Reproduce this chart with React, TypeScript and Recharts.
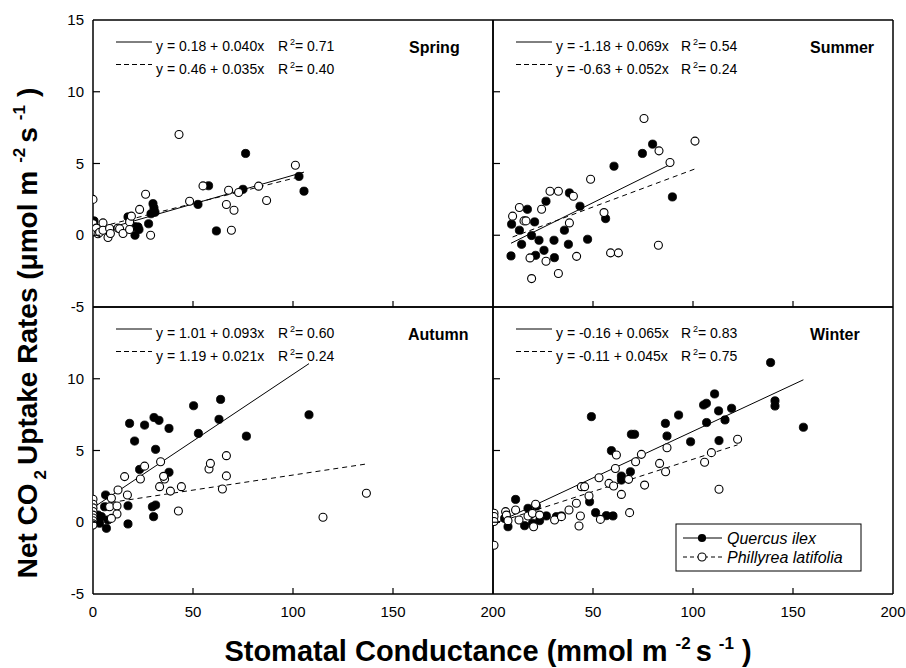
import React from 'react';
import { ScatterChart, Scatter, XAxis, YAxis, ReferenceLine } from 'recharts';

// ---------- data (x = stomatal conductance, y = net CO2 uptake) ----------
const springQuercus = [
  [0.5, 1.0], [0, 0.8], [17.5, 1.28], [21, 0.0], [22.5, 0.58], [23, 0.4], [20.8, 0.6], [27.8, 0.8],
  [30, 2.2], [31, 1.6], [30.5, 1.9], [29, 1.5], [52.5, 2.15], [57.8, 3.45], [61.7, 0.3], [75, 3.2],
  [76.3, 5.7], [103, 4.1], [105.5, 3.07],
];
const springPhillyrea = [
  [0, 2.5], [0, 0.8], [0, 0.23], [1.7, 0.5], [2.5, 0.1], [3.3, 0.2], [5, 0.86], [5, 0.35], [7.5, -0.16],
  [8.3, 0.47], [8.7, 0.12], [12.5, 0.5], [13.3, 0.45], [15, 0.12], [18.3, 0.93], [19.2, 1.33], [18.3, 0.4],
  [23.3, 1.8], [26.3, 2.86], [28.8, 0.0], [43, 7.02], [48.3, 2.37], [55, 3.44], [66.7, 2.14], [67.8, 3.14],
  [69.2, 0.35], [70.5, 1.74], [72.8, 2.98], [82.8, 3.42], [86.8, 2.42], [101.2, 4.88],
];
const summerQuercus = [
  [9, -1.44], [9.3, 0.77], [13.2, 0.35], [14.3, -0.63], [17.2, 1.81], [19.3, -0.02], [20.8, 0.93],
  [21.3, -1.4], [23, -0.35], [25.5, -1.05], [26.5, 2.37], [30.5, -0.35], [30.7, -1.56], [35.7, 0.35],
  [37.7, -0.63], [38.2, 2.95], [43.5, 2.02], [47.3, -0.28], [56.3, 1.16], [60.5, 4.81], [74.7, 5.7],
  [79.8, 6.35], [89.7, 2.67],
];
const summerPhillyrea = [
  [9.8, 1.33], [13.2, 1.93], [15.5, 1.0], [16.5, 1.0], [18.5, -1.58], [19.3, -3.02], [24.3, 1.81],
  [26.5, -1.81], [28.5, 3.07], [32.7, 3.07], [32.7, -2.67], [38.2, 0.86], [40.2, 2.72], [41.8, -1.47],
  [48.8, 3.9], [55.5, 1.58], [58.8, -1.23], [62.7, -1.23], [75.5, 8.14], [82.7, -0.7], [83, 5.88],
  [88.5, 5.07], [101, 6.56],
];
const autumnQuercus = [
  [18.3, 6.89], [25.8, 6.77], [30.5, 7.3], [33, 7.1], [38, 6.54], [20.8, 5.66], [31.3, 5.08], [50.3, 8.12],
  [63.8, 8.56], [63, 7.17], [52.7, 6.19], [76.7, 6.0], [23.3, 3.68], [38, 3.48], [6.3, 1.9], [17.5, 1.15],
  [29.7, 1.08], [31.3, 1.2], [30.3, 0.39], [17.5, -0.12], [6.7, -0.42], [4.2, 0.39], [5.8, 1.08],
  [3.3, -0.07], [7.5, 0.16], [108, 7.49], [1.5, 0.2], [2.5, 0.5],
];
const autumnPhillyrea = [
  [0, 1.6], [0, 1.25], [0, 1.0], [0, 0.75], [0, 0.5], [0, 0.3], [0, 0.1], [0, -0.1], [0, -0.2],
  [9.2, 1.67], [8.3, 1.08], [12, 1.13], [12, 0.57], [9.2, 0.27], [12.5, 2.25], [17.2, 1.9], [15.8, 3.18],
  [23.7, 3.01], [25.8, 3.91], [33.8, 4.22], [35.8, 3.01], [35.3, 3.2], [33.3, 2.48], [38.7, 2.17],
  [44.2, 2.48], [42.7, 0.78], [58, 3.71], [58.7, 4.1], [66.7, 4.64], [66.7, 3.23], [64.7, 2.32],
  [115, 0.35], [136.7, 2.02],
];
const winterQuercus = [
  [49.2, 7.36], [69.2, 6.13], [70.8, 6.13], [86.2, 6.89], [92.8, 7.47], [87, 6.01], [98.8, 5.61],
  [105.3, 8.17], [106.7, 8.29], [110.8, 8.94], [112.8, 7.76], [119.3, 7.94], [106.8, 6.95], [116, 7.13],
  [138.8, 11.13], [141, 8.46], [141, 8.1], [155.2, 6.62], [113, 5.69], [59.2, 4.99], [68.7, 3.52],
  [64.2, 3.22], [64.2, 2.94], [48.3, 1.43], [51.3, 0.67], [56.7, 0.46], [60, 0.44], [11.3, 1.59],
  [17.5, 0.97], [21.7, 1.13], [7.5, -0.31], [15.8, -0.24], [23.3, 0.11], [26.7, 0.44], [31.7, 0.39],
  [34.2, 0.44], [5.8, 0.27], [18.3, 0.5], [19.7, -0.07],
];
const winterPhillyrea = [
  [0.5, 0.63], [0.5, 0.4], [0.5, 0.05], [0.5, -1.6], [6.3, 0.74], [6.7, 0.5], [7.5, 0.11], [11.3, 0.85],
  [13, 0.16], [17.5, 0.44], [19.7, 0.62], [21.3, 1.25], [23.3, 0.5], [20.3, -0.31], [30.8, 0.16],
  [34.2, 0.39], [38, 0.85], [41.7, 1.32], [43.7, 0.44], [43, -0.26], [44.2, 2.48], [45.8, 2.48], [48, 1.83],
  [53, 3.1], [58, 2.71], [60.3, 2.53], [61.2, 3.75], [64.2, 1.94], [61.7, 4.69], [67.8, 2.99], [68.3, 0.67],
  [71.3, 4.22], [74.2, 4.73], [75.8, 2.59], [83.3, 4.1], [86.3, 3.52], [87, 5.19], [105.8, 4.18],
  [109.2, 4.85], [122.3, 5.78], [113, 2.3], [53.7, 0.2],
];

// regression fits: [intercept, slope, xStart, xEnd]
const fitSpringQ = [0.18, 0.04, 0.5, 105.5];
const fitSpringP = [0.46, 0.035, 0, 101.2];
const fitSummerQ = [-1.18, 0.069, 9, 89.7];
const fitSummerP = [-0.63, 0.052, 9.8, 101];
const fitAutumnQ = [1.01, 0.093, 1.5, 108];
const fitAutumnP = [1.19, 0.021, 0, 136.7];
const fitWinterQ = [-0.16, 0.065, 0.5, 155.2];
const fitWinterP = [-0.11, 0.045, 0.5, 122.3];

const seasons = ['Spring', 'Summer', 'Autumn', 'Winter'];
const eqQ = ['y = 0.18 + 0.040x', 'y = -1.18 + 0.069x', 'y = 1.01 + 0.093x', 'y = -0.16 + 0.065x'];
const eqP = ['y = 0.46 + 0.035x', 'y = -0.63 + 0.052x', 'y = 1.19 + 0.021x', 'y = -0.11 + 0.045x'];
const r2Q = ['0.71', '0.54', '0.60', '0.83'];
const r2P = ['0.40', '0.24', '0.24', '0.75'];

const xTicks = [0, 50, 100, 150, 200];
const yTicks = [-5, 0, 5, 10, 15];

// ---------- layout ----------
const W = 906;
const H = 668;
const PW = 400;
const PH = 287;
const FONT = 'Liberation Sans, Arial, Helvetica, sans-serif';
const AX = { stroke: '#000', strokeWidth: 1.5 };

const toPts = (arr: number[][]) => arr.map(([x, y]) => ({ x, y }));

const FilledDot = (props: any) => <circle cx={props.cx} cy={props.cy} r={4.1} fill="#000" stroke="#000" strokeWidth={0.8} />;
const OpenDot = (props: any) => <circle cx={props.cx} cy={props.cy} r={4.0} fill="#fff" stroke="#000" strokeWidth={1.1} />;

const XTick = (props: any) => {
  const { x, y, payload, showLabel, skipZero } = props;
  const v = payload.value;
  const label = showLabel && !(skipZero && v === 0);
  return (
    <g>
      {v !== 0 && v !== 200 && <line x1={x} y1={y} x2={x} y2={y - 6} stroke="#000" strokeWidth={1.2} />}
      {label && (
        <text x={x} y={y + 23} textAnchor="middle" fontFamily={FONT} fontSize={15} fill="#000">
          {v}
        </text>
      )}
    </g>
  );
};

const YTick = (props: any) => {
  const { x, y, payload, showLabel, skipTop, dir } = props;
  const v = payload.value;
  const label = showLabel && !(skipTop && v === 15);
  return (
    <g>
      {v !== 15 && v !== -5 && <line x1={x} y1={y} x2={x + dir * 7} y2={y} stroke="#000" strokeWidth={1.2} />}
      {label && (
        <text x={x - 9} y={y + 5} textAnchor="end" fontFamily={FONT} fontSize={15} fill="#000">
          {v}
        </text>
      )}
    </g>
  );
};

function Panel(props: any) {
  const { left, top, q, p, fq, fp, xLabels, skipX0, yLabels, skipY15 } = props;
  const seg = (f: number[]) => [
    { x: f[2], y: f[0] + f[1] * f[2] },
    { x: f[3], y: f[0] + f[1] * f[3] },
  ];
  // axes take 1px each; margins compensate so the plot area is exactly the panel
  return (
    <div style={{ position: 'absolute', left: 0, top: 0 }}>
      <ScatterChart
        width={W}
        height={H}
        margin={{ top: top - 1, left: left - 1, right: W - left - PW - 1, bottom: H - top - PH - 1 }}
      >
        <XAxis xAxisId="b" dataKey="x" type="number" domain={[0, 200]} ticks={xTicks} interval={0}
          orientation="bottom" height={1} tickSize={0} tickMargin={0} tickLine={false} axisLine={AX}
          allowDataOverflow tick={<XTick showLabel={xLabels} skipZero={skipX0} />} />
        <XAxis xAxisId="t" type="number" domain={[0, 200]} orientation="top" height={1}
          tick={false} tickLine={false} axisLine={AX} />
        <YAxis yAxisId="l" dataKey="y" type="number" domain={[-5, 15]} ticks={yTicks} interval={0}
          orientation="left" width={1} tickSize={0} tickMargin={0} tickLine={false} axisLine={AX}
          allowDataOverflow tick={<YTick showLabel={yLabels} skipTop={skipY15} dir={1} />} />
        <YAxis yAxisId="r" type="number" domain={[-5, 15]} ticks={yTicks} interval={0}
          orientation="right" width={1} tickSize={0} tickMargin={0} tickLine={false} axisLine={AX}
          tick={<YTick showLabel={false} dir={-1} />} />
        <ReferenceLine xAxisId="b" yAxisId="l" segment={seg(fq)} stroke="#000" strokeWidth={1} ifOverflow="visible" />
        <ReferenceLine xAxisId="b" yAxisId="l" segment={seg(fp)} stroke="#000" strokeWidth={1}
          strokeDasharray="5 4" ifOverflow="visible" />
        <Scatter xAxisId="b" yAxisId="l" data={toPts(q)} shape={FilledDot} isAnimationActive={false} />
        <Scatter xAxisId="b" yAxisId="l" data={toPts(p)} shape={OpenDot} isAnimationActive={false} />
      </ScatterChart>
    </div>
  );
}

function EqBlock({ px, py, i }: { px: number; py: number; i: number }) {
  const tx = px + 63;
  const rx = px + (i % 2 === 0 ? 185 : 188);
  const rows = [
    { b: py + 31, ly: py + 22, t: eqQ[i], r: r2Q[i], dash: undefined },
    { b: py + 54, ly: py + 44.5, t: eqP[i], r: r2P[i], dash: '5 3' },
  ];
  return (
    <g fontFamily={FONT} fill="#000">
      {rows.map((r, k) => (
        <g key={k}>
          <line x1={px + 23} x2={px + 59} y1={r.ly} y2={r.ly} stroke="#000" strokeWidth={1} strokeDasharray={r.dash} />
          <text x={tx} y={r.b} fontSize={14}>{r.t}</text>
          <text x={rx} y={r.b} fontSize={14}>R</text>
          <text x={rx + 12} y={r.b - 6} fontSize={9}>2</text>
          <text x={rx + 17} y={r.b} fontSize={14}>{'= ' + r.r}</text>
        </g>
      ))}
    </g>
  );
}

export default function App() {
  const L = 93;
  const T = 20;
  const panels = [
    { left: L, top: T, q: springQuercus, p: springPhillyrea, fq: fitSpringQ, fp: fitSpringP, xLabels: false, skipX0: false, yLabels: true, skipY15: false },
    { left: L + PW, top: T, q: summerQuercus, p: summerPhillyrea, fq: fitSummerQ, fp: fitSummerP, xLabels: false, skipX0: false, yLabels: false, skipY15: false },
    { left: L, top: T + PH, q: autumnQuercus, p: autumnPhillyrea, fq: fitAutumnQ, fp: fitAutumnP, xLabels: true, skipX0: false, yLabels: true, skipY15: true },
    { left: L + PW, top: T + PH, q: winterQuercus, p: winterPhillyrea, fq: fitWinterQ, fp: fitWinterP, xLabels: true, skipX0: true, yLabels: false, skipY15: false },
  ];
  const seasonX = [409, 810, 408, 810];
  return (
    <div style={{ position: 'absolute', left: 0, top: 0, width: W, height: H, background: '#fff' }}>
      {panels.map((pp, i) => (
        <Panel key={i} {...pp} />
      ))}
      <svg width={W} height={H} style={{ position: 'absolute', left: 0, top: 0, pointerEvents: 'none' }}>
        {panels.map((pp, i) => (
          <g key={i}>
            <EqBlock px={pp.left} py={pp.top} i={i} />
            <text x={seasonX[i]} y={pp.top + 33} fontFamily={FONT} fontSize={16} fontWeight="bold" fill="#000">
              {seasons[i]}
            </text>
          </g>
        ))}
        <text x={488} y={661} textAnchor="middle" fontFamily={FONT} fontSize={29} fontWeight="bold" fill="#000">
          Stomatal Conductance (mmol m
          <tspan fontSize={17} dx={8} dy={-12}>-2</tspan>
          <tspan dx={5} dy={12}>s</tspan>
          <tspan fontSize={17} dx={7} dy={-12}>-1</tspan>
          <tspan dx={8} dy={12}>)</tspan>
        </text>
        <text transform="translate(37,333) rotate(-90)" textAnchor="middle" fontFamily={FONT} fontSize={28}
          fontWeight="bold" fill="#000">
          Net CO
          <tspan fontSize={17} dx={4} dy={9}>2</tspan>
          <tspan dx={5} dy={-9}>Uptake Rates (μmol m</tspan>
          <tspan fontSize={17} dx={8} dy={-12}>-2</tspan>
          <tspan dx={5} dy={12}>s</tspan>
          <tspan fontSize={17} dx={7} dy={-12}>-1</tspan>
          <tspan dx={8} dy={12}>)</tspan>
        </text>
        <g fontFamily={FONT}>
          <rect x={676} y={524} width={185} height={47} fill="#fff" stroke="#000" strokeWidth={1} />
          <line x1={683} x2={722} y1={538} y2={538} stroke="#000" strokeWidth={1} />
          <circle cx={702} cy={538} r={4.1} fill="#000" />
          <text x={727} y={544} fontSize={16} fontStyle="italic" fill="#000">Quercus ilex</text>
          <line x1={683} x2={722} y1={557} y2={557} stroke="#000" strokeWidth={1} strokeDasharray="4 3" />
          <circle cx={702} cy={557} r={4.0} fill="#fff" stroke="#000" strokeWidth={1.1} />
          <text x={727} y={563} fontSize={16} fontStyle="italic" fill="#000">Phillyrea latifolia</text>
        </g>
      </svg>
    </div>
  );
}
